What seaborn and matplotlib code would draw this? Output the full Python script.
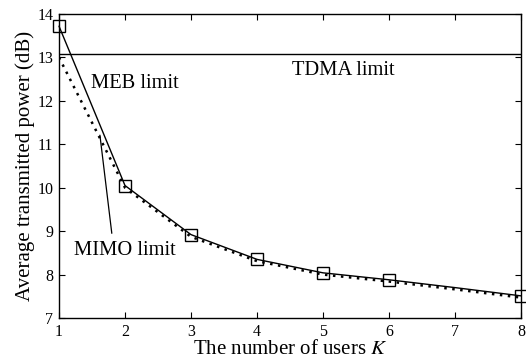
import matplotlib
matplotlib.use("Agg")
import matplotlib.pyplot as plt
import seaborn as sns
import pandas as pd

K = [1, 2, 3, 4, 5, 6, 7, 8]
meb = [13.72, 10.05, 8.92, 8.35, 8.04, 7.88, 7.70, 7.51]
mimo = [13.0, 10.0, 8.87, 8.31, 8.0, 7.84, 7.66, 7.47]
tdma = 13.07
xticks = [1, 2, 3, 4, 5, 6, 7, 8]
yticks = [7, 8, 9, 10, 11, 12, 13, 14]

sns.set_theme(style="ticks")
plt.rcParams['font.family'] = ['Liberation Serif', 'DejaVu Serif']
plt.rcParams['mathtext.fontset'] = 'stix'
plt.rcParams['text.color'] = 'black'
plt.rcParams['axes.labelcolor'] = 'black'

df = pd.DataFrame({"K": K, "meb": meb, "mimo": mimo})

fig = plt.figure(figsize=(5.26, 3.62), dpi=100)
ax = fig.add_axes([59/526, 1 - 318/362, 462/526, 304/362])

sns.lineplot(data=df, x="K", y="mimo", ax=ax, color="black", linestyle=(0, (1, 2.2)),
             linewidth=1.8)
sns.lineplot(data=df, x="K", y="meb", ax=ax, color="black", linewidth=1.0,
             marker="s", markersize=9, markerfacecolor="none", markeredgecolor="black",
             markeredgewidth=1.0, markevery=[0, 1, 2, 3, 4, 5, 7], clip_on=False)
ax.axhline(tdma, color="black", linewidth=1.0)

ax.set_xlim(1, 8)
ax.set_ylim(7, 14)
ax.set_xticks(xticks)
ax.set_yticks(yticks)
ax.tick_params(direction="in", length=4, width=0.8, top=True, right=True,
               labelsize=11.5, colors="black", pad=4)
for s in ax.spines.values():
    s.set_linewidth(1.0)
    s.set_color("black")

ax.set_xlabel("The number of users $K$", fontsize=15, labelpad=0)
ax.set_ylabel("Average transmitted power (dB)", fontsize=15, labelpad=2)

ax.text(1.485, 12.4, "MEB limit", fontsize=14.8, va="center", ha="left", color="black")
ax.text(4.53, 12.69, "TDMA limit", fontsize=14.8, va="center", ha="left", color="black")
ax.text(1.23, 8.56, "MIMO limit", fontsize=14.8, va="center", ha="left", color="black")
ax.plot([1.62, 1.80], [11.21, 8.95], color="black", linewidth=0.9)

fig.savefig("out.png", dpi=100)
